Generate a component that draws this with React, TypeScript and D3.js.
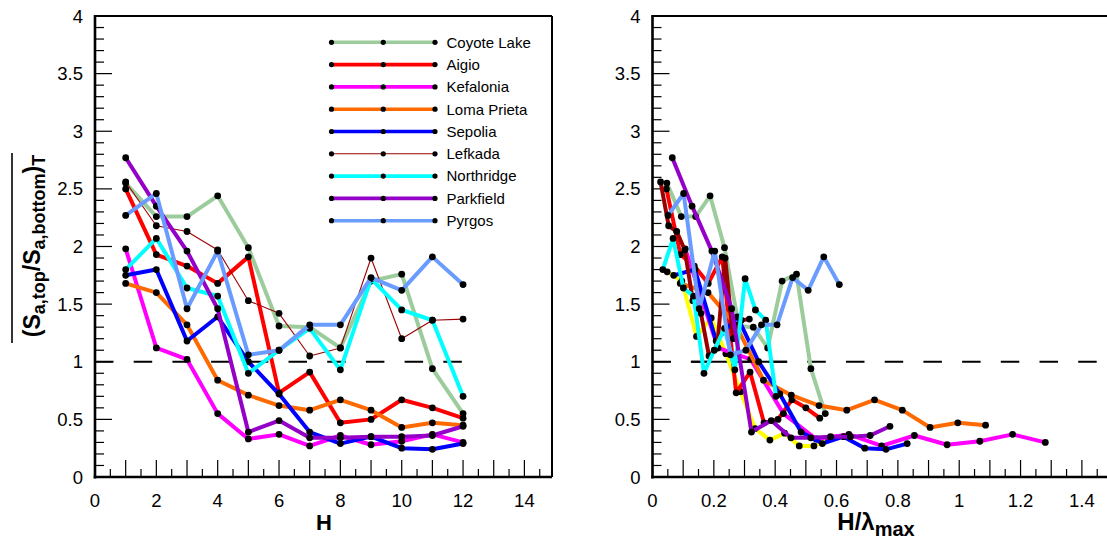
import React from 'react';
import * as d3 from 'd3';

// Storey index H of each record point
const storeys = [1, 2, 3, 4, 5, 6, 7, 8, 9, 10, 11, 12];

// Mean top/bottom spectral acceleration ratio per storey
const coyoteLake = [2.55, 2.26, 2.26, 2.44, 1.99, 1.31, 1.30, 1.12, 1.70, 1.76, 0.94, 0.55];
const aigio = [2.50, 1.93, 1.83, 1.68, 1.91, 0.73, 0.91, 0.47, 0.50, 0.67, 0.60, 0.51];
const kefalonia = [1.98, 1.12, 1.02, 0.55, 0.33, 0.37, 0.27, 0.36, 0.28, 0.31, 0.37, 0.30];
const lomaPrieta = [1.68, 1.60, 1.32, 0.84, 0.71, 0.62, 0.58, 0.67, 0.58, 0.43, 0.47, 0.45];
const sepolia = [1.75, 1.80, 1.18, 1.39, 1.00, 0.72, 0.39, 0.29, 0.35, 0.25, 0.24, 0.29];
const lefkada = [2.56, 2.18, 2.13, 1.97, 1.53, 1.42, 1.05, 1.12, 1.90, 1.20, 1.36, 1.37];
const northridge = [1.80, 2.07, 1.64, 1.57, 0.90, 1.10, 1.29, 0.93, 1.72, 1.45, 1.36, 0.70];
const parkfield = [2.77, 2.35, 1.96, 1.46, 0.39, 0.49, 0.34, 0.34, 0.35, 0.35, 0.36, 0.44];
const pyrgos = [2.27, 2.46, 1.46, 1.96, 1.06, 1.10, 1.32, 1.32, 1.73, 1.62, 1.91, 1.67];
// Extra record shown only against normalised height
const extraRecord = [1.78, 1.70, 1.22, 1.38, 1.07, 0.74, 0.42, 0.32, 0.38, 0.27, 0.27, 0.33];

// Longest wavelength of each record (in storey units), used for H/lambda_max
const recordNames = ['Coyote Lake', 'Aigio', 'Kefalonia', 'Loma Prieta', 'Sepolia', 'Lefkada', 'Northridge', 'Parkfield', 'Pyrgos'];
const recordValues = [coyoteLake, aigio, kefalonia, lomaPrieta, sepolia, lefkada, northridge, parkfield, pyrgos];
const lambdaMax = [21.3, 22.0, 9.37, 11.05, 14.45, 38.0, 29.8, 15.5, 19.7];
const extraLambdaMax = 20.9;

const recordColors = ['#9ccc9c', '#ff0000', '#ff00ff', '#ff6a00', '#0000ff', '#9a0000', '#00ffff', '#9400c8', '#6a9cff'];
const leftWidths = [4, 4, 4, 4, 4, 1.1, 4, 4, 4];
const rightWidths = [4, 4, 4, 4, 4, 4, 4, 4, 4];
const extraColor = '#ffff00';

const yTickLabels = [0, 0.5, 1, 1.5, 2, 2.5, 3, 3.5, 4];
const leftXTickLabels = [0, 2, 4, 6, 8, 10, 12, 14];
const rightXTickLabels = [0, 0.2, 0.4, 0.6, 0.8, 1, 1.2, 1.4];

const FONT = "'Liberation Sans', Arial, sans-serif";

type Pt = { x: number; y: number };
type Line = { pts: Pt[]; color: string; width: number };

function fmt(v: number) {
  return String(+v.toFixed(2));
}

function Frame({ x, y, minorX, majorX, xLabels, refEnd, solidRef }: {
  x: d3.ScaleLinear<number, number>; y: d3.ScaleLinear<number, number>;
  minorX: number; majorX: number; xLabels: number[]; refEnd: number; solidRef?: [number, number];
}) {
  const [x0, x1] = x.range();
  const [y0, y1] = y.range();
  const xd = x.domain()[1];
  const xt = d3.range(0, xd + 1e-9, minorX);
  const yt = d3.range(0, 4 + 1e-9, 0.1);
  const isMult = (v: number, s: number) => Math.abs(v / s - Math.round(v / s)) < 1e-6;
  return (
    <g>
      {xt.map((v, i) => (
        <line key={'xt' + i} x1={x(v)} x2={x(v)} y1={y0} y2={y0 - (isMult(v, majorX) ? 17 : 8)} stroke="#000" strokeWidth={1.2} />
      ))}
      {yt.map((v, i) => (
        <line key={'yt' + i} x1={x0} x2={x0 + (isMult(v, 0.5) ? 17 : 9)} y1={y(v)} y2={y(v)} stroke="#000" strokeWidth={1.2} />
      ))}
      <line x1={x0} x2={x1} y1={y1} y2={y1} stroke="#000" strokeWidth={2} />
      <line x1={x1} x2={x1} y1={y1} y2={y0} stroke="#000" strokeWidth={2} />
      <line x1={x0} x2={x0} y1={y1 - 1} y2={y0 + 1.5} stroke="#000" strokeWidth={2.6} />
      <line x1={x0 - 1.3} x2={x1} y1={y0} y2={y0} stroke="#000" strokeWidth={2.6} />
      <line x1={x(0)} x2={x(refEnd)} y1={y(1)} y2={y(1)} stroke="#000" strokeWidth={2} strokeDasharray="18.5 20.2" />
      {solidRef && (
        <line x1={x(solidRef[0])} x2={x(solidRef[1])} y1={y(1)} y2={y(1)} stroke="#000" strokeWidth={2} />
      )}
      {yTickLabels.map((v) => (
        <text key={'yl' + v} x={x0 - 12} y={y(v) + 6.5} textAnchor="end" fontSize={18.5} fontFamily={FONT} fill="#000">{fmt(v)}</text>
      ))}
      {xLabels.map((v) => (
        <text key={'xl' + v} x={x(v)} y={507} textAnchor="middle" fontSize={18.5} fontFamily={FONT} fill="#000">{fmt(v)}</text>
      ))}
    </g>
  );
}

function Series({ lines, x, y }: { lines: Line[]; x: d3.ScaleLinear<number, number>; y: d3.ScaleLinear<number, number> }) {
  const gen = d3.line<Pt>().x((d) => x(d.x)).y((d) => y(d.y));
  return (
    <g>
      {lines.map((l, i) => (
        <g key={i}>
          <path d={gen(l.pts) || ''} fill="none" stroke={l.color} strokeWidth={l.width} strokeLinejoin="round" />
          {l.pts.map((p, j) => (
            <circle key={j} cx={x(p.x)} cy={y(p.y)} r={3.4} fill="#000" />
          ))}
        </g>
      ))}
    </g>
  );
}

export default function App() {
  const y = d3.scaleLinear().domain([0, 4]).range([477, 16]);
  const xLeft = d3.scaleLinear().domain([0, 14.9]).range([95, 552]);
  const xRight = d3.scaleLinear().domain([0, 1.49]).range([652.5, 1109.5]);

  const leftLines: Line[] = recordValues.map((vals, k) => ({
    pts: vals.map((v, i) => ({ x: storeys[i], y: v })),
    color: recordColors[k],
    width: leftWidths[k],
  }));

  const rightLines: Line[] = [
    {
      pts: extraRecord.map((v, i) => ({ x: storeys[i] / extraLambdaMax, y: v })),
      color: extraColor,
      width: 4,
    },
    ...recordValues.map((vals, k) => ({
      pts: vals.map((v, i) => ({ x: storeys[i] / lambdaMax[k], y: v })),
      color: recordColors[k],
      width: rightWidths[k],
    })),
  ];

  const legendX0 = 331.5, legendX1 = 435, legendY0 = 42.3, legendDy = 22.3;

  return (
    <svg width={1107} height={542} style={{ position: 'absolute', left: 0, top: 0, background: '#fff' }}>
      <rect x={0} y={0} width={1107} height={542} fill="#fff" />

      {/* left panel: ratio against storey number */}
      <Frame x={xLeft} y={y} minorX={0.5} majorX={1} xLabels={leftXTickLabels} refEnd={12} />
      <Series lines={leftLines} x={xLeft} y={y} />

      {/* legend */}
      <g>
        {recordNames.map((name, k) => {
          const ly = legendY0 + k * legendDy;
          return (
            <g key={name}>
              <line x1={legendX0} x2={legendX1} y1={ly} y2={ly} stroke={recordColors[k]} strokeWidth={leftWidths[k] > 2 ? 3.6 : 1.1} />
              {[legendX0, (legendX0 + legendX1) / 2, legendX1].map((cx) => (
                <circle key={cx} cx={cx} cy={ly} r={2.6} fill="#000" />
              ))}
              <text x={446.5} y={ly + 5.3} fontSize={15} fontFamily={FONT} fill="#000">{name}</text>
            </g>
          );
        })}
      </g>

      {/* right panel: ratio against normalised height */}
      <Frame x={xRight} y={y} minorX={0.05} majorX={0.1} xLabels={rightXTickLabels} refEnd={1.45} solidRef={[0.125, 0.439]} />
      <Series lines={rightLines} x={xRight} y={y} />

      {/* axis titles */}
      <text x={324} y={530} textAnchor="middle" fontSize={22} fontWeight="bold" fontFamily={FONT}>H</text>
      <text x={876} y={530} textAnchor="middle" fontSize={24} fontWeight="bold" fontFamily={FONT}>
        H/λ<tspan fontSize={20} dy={6}>max</tspan>
      </text>
      <text transform="translate(40,246) rotate(-90)" textAnchor="middle" fontSize={23} fontWeight="bold" fontFamily={FONT}>
        (S<tspan fontSize={18} dy={5}>a,top</tspan><tspan dy={-5}>/S</tspan><tspan fontSize={18} dy={5}>a,bottom</tspan><tspan dy={-5}>)</tspan><tspan fontSize={18} dy={5}>T</tspan>
      </text>
      <line x1={12} x2={12} y1={153} y2={343} stroke="#000" strokeWidth={1.6} />
    </svg>
  );
}
